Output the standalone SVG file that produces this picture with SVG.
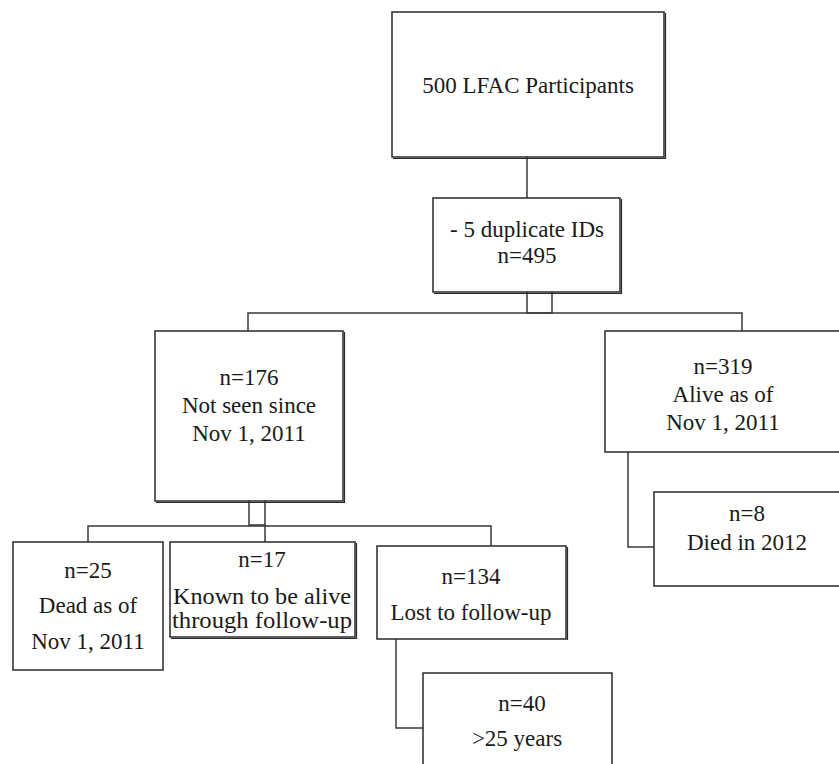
<svg xmlns="http://www.w3.org/2000/svg" width="839" height="764" viewBox="0 0 839 764">
<style>
  .box { fill: #ffffff; stroke: #2a2a2a; stroke-width: 1.5; }
  .sh { fill: none; stroke: #2a2a2a; stroke-width: 1.2; }
  .ln { fill: none; stroke: #3a3a3a; stroke-width: 1.5; }
  text { font-family: 'Liberation Serif', 'DejaVu Serif', 'Times New Roman', Times, serif; font-size: 23px; fill: #1a1a1a; text-anchor: middle; }
</style>
<rect width="839" height="764" fill="#ffffff"/>
<g id="connectors">
  <line class="ln" x1="527" y1="157" x2="527" y2="198"/>
  <polyline class="ln" points="527,292 527,313 552,313 552,292"/>
  <polyline class="ln" points="248,331 248,313 742,313 742,331"/>
  <polyline class="ln" points="249,501 249,525 265,525 265,501"/>
  <polyline class="ln" points="88,542 88,526 491,526 491,546"/>
  <line class="ln" x1="265" y1="525" x2="265" y2="542"/>
  <polyline class="ln" points="628,452 628,547 654,547"/>
  <polyline class="ln" points="396,639 396,728 423,728"/>
</g>
<g font-family="'Liberation Serif', 'DejaVu Serif', serif">
<g id="node-500">
  <rect class="box" x="392" y="12" width="272" height="145"/>
  <polyline class="sh" points="393,158.5 665.5,158.5 665.5,13"/>
  <text x="528" y="93" font-family="Liberation Serif, serif">500 LFAC Participants</text>
</g>
<g id="node-495">
  <rect class="box" x="433" y="198" width="187" height="94"/>
  <polyline class="sh" points="434,293.5 621.5,293.5 621.5,199"/>
  <text x="527" y="237">- 5 duplicate IDs</text>
  <text x="527" y="263">n=495</text>
</g>
<g id="node-176">
  <rect class="box" x="155" y="331" width="188" height="170"/>
  <polyline class="sh" points="156,502.5 344.5,502.5 344.5,332"/>
  <text x="249" y="385">n=176</text>
  <text x="249" y="413">Not seen since</text>
  <text x="249" y="441">Nov 1, 2011</text>
</g>
<g id="node-319">
  <rect class="box" x="605" y="331" width="245" height="121"/>
  <text x="723" y="374">n=319</text>
  <text x="723" y="402">Alive as of</text>
  <text x="723" y="430">Nov 1, 2011</text>
</g>
<g id="node-8">
  <rect class="box" x="654" y="492" width="196" height="94"/>
  <text x="747" y="521">n=8</text>
  <text x="747" y="550">Died in 2012</text>
</g>
<g id="node-25">
  <rect class="box" x="13" y="542" width="150" height="128"/>
  <text x="88" y="578">n=25</text>
  <text x="88" y="613">Dead as of</text>
  <text x="88" y="649">Nov 1, 2011</text>
</g>
<g id="node-17">
  <rect class="box" x="170" y="542" width="185" height="95"/>
  <polyline class="sh" points="171,638.5 356.5,638.5 356.5,543"/>
  <text x="262" y="567">n=17</text>
  <text x="262" y="604" textLength="178" lengthAdjust="spacingAndGlyphs">Known to be alive</text>
  <text x="262" y="628" textLength="180" lengthAdjust="spacingAndGlyphs">through follow-up</text>
</g>
<g id="node-134">
  <rect class="box" x="377" y="546" width="189" height="93"/>
  <polyline class="sh" points="567.5,547 567.5,640"/>
  <text x="471" y="584">n=134</text>
  <text x="471" y="620">Lost to follow-up</text>
</g>
<g id="node-40">
  <rect class="box" x="423" y="673" width="189" height="100"/>
  <text x="522" y="711">n=40</text>
  <text x="517" y="746">&gt;25 years</text>
</g>
</g>
</svg>
